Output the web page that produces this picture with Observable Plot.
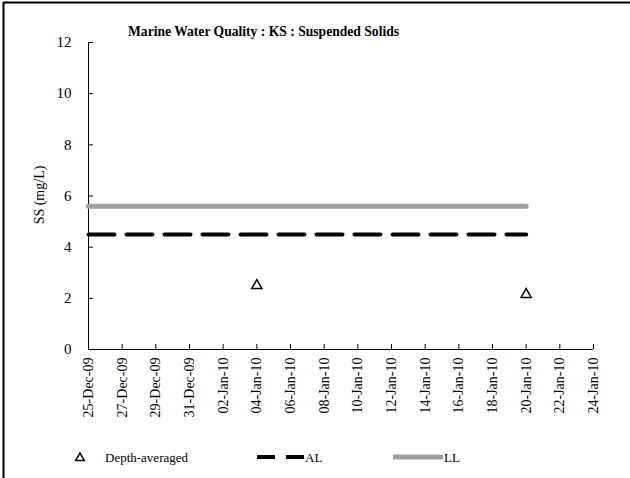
<!DOCTYPE html>
<html>
<head>
<meta charset="utf-8">
<script src="https://cdn.jsdelivr.net/npm/d3@7"></script>
<script src="https://cdn.jsdelivr.net/npm/@observablehq/plot@0.6"></script>
<style>
  html, body { margin: 0; padding: 0; background: #fff; }
  #chart { position: relative; width: 630px; height: 478px; }
  #chart svg, #chart svg text { font-family: "Liberation Serif", "Times New Roman", serif !important; }
</style>
</head>
<body>
<div id="chart"></div>
<script>
const title = "Marine Water Quality : KS : Suspended Solids";
const yLabel = "SS (mg/L)";
const sampleDates = ["2010-01-04", "2010-01-20"];
const sampleValues = [2.5, 2.15];
const limitDates = ["2009-12-25", "2010-01-20"];
const alValue = 4.5;
const llValue = 5.6;
const xDomain = ["2009-12-25", "2010-01-24"];
const yDomain = [0, 12];
const yTicks = [0, 2, 4, 6, 8, 10, 12];
const legendLabels = ["Depth-averaged", "AL", "LL"];

const parse = d3.utcParse("%Y-%m-%d");
const samples = sampleDates.map((d, i) => ({date: parse(d), value: sampleValues[i]}));
const al = limitDates.map(d => ({date: parse(d), value: alValue}));
const ll = limitDates.map(d => ({date: parse(d), value: llValue}));
const xStart = parse(xDomain[0]), xEnd = parse(xDomain[1]);
const xTicks = d3.utcDay.range(xStart, d3.utcDay.offset(xEnd, 1), 2);

const font = '"Liberation Serif", "Times New Roman", serif';

const plot = Plot.plot({
  width: 630,
  height: 478,
  marginLeft: 88,
  marginRight: 37,
  marginTop: 42,
  marginBottom: 129,
  style: {fontFamily: font, fontSize: "14px", color: "#000", background: "#fff"},
  x: {type: "utc", domain: [xStart, xEnd]},
  y: {domain: yDomain},
  marks: [
    Plot.axisY(yTicks, {tickSize: 0, tickPadding: 17, label: null, fontSize: 15}),
    Plot.axisX(xTicks, {tickSize: 0, tickPadding: 8, tickRotate: -90, tickFormat: d3.utcFormat("%d-%b-%y"), label: null, fontSize: 14}),
    Plot.ruleX(xTicks, {insetTop: 302, stroke: "#000", strokeWidth: 1}),
    Plot.ruleY(yTicks, {insetRight: 500, stroke: "#000", strokeWidth: 1}),
    Plot.ruleY([0], {stroke: "#000", strokeWidth: 1}),
    Plot.ruleX([xStart], {stroke: "#000", strokeWidth: 1}),
    Plot.line(ll, {x: "date", y: "value", stroke: "#9f9f9f", strokeWidth: 5}),
    Plot.line(al, {x: "date", y: "value", stroke: "#000", strokeWidth: 4, strokeDasharray: "26,12"}),
    Plot.dot(samples, {x: "date", y: "value", symbol: "triangle", r: 3.8, fill: "#fff", stroke: "#000", strokeWidth: 1.5})
  ]
});

document.getElementById("chart").appendChild(plot);

const svg = d3.select(plot);
// frame lines
svg.append("line").attr("x1", 3.5).attr("x2", 3.5).attr("y1", 2).attr("y2", 478).attr("stroke", "#000").attr("stroke-width", 2);
svg.append("line").attr("x1", 3).attr("x2", 630).attr("y1", 2.5).attr("y2", 2.5).attr("stroke", "#000").attr("stroke-width", 2);
// title
svg.append("text").attr("x", 128).attr("y", 36).attr("text-anchor", "start").attr("font-size", 13.6)
  .attr("font-weight", "bold").text(title);
// y label
svg.append("text").attr("transform", "translate(44,195) rotate(-90)").attr("text-anchor", "middle")
  .attr("font-size", 14).text(yLabel);
// legend
const lg = svg.append("g").attr("font-size", 13).attr("text-anchor", "start");
lg.append("path").attr("d", d3.symbol(d3.symbolTriangle, 32)()).attr("transform", "translate(80,458)")
  .attr("fill", "#fff").attr("stroke", "#000").attr("stroke-width", 1.5);
lg.append("text").attr("x", 105).attr("y", 462).text(legendLabels[0]);
lg.append("line").attr("x1", 257).attr("x2", 304).attr("y1", 457).attr("y2", 457)
  .attr("stroke", "#000").attr("stroke-width", 4).attr("stroke-dasharray", "18,11");
lg.append("text").attr("x", 305).attr("y", 462).text(legendLabels[1]);
lg.append("line").attr("x1", 393).attr("x2", 443).attr("y1", 457).attr("y2", 457)
  .attr("stroke", "#9f9f9f").attr("stroke-width", 5);
lg.append("text").attr("x", 444).attr("y", 462).text(legendLabels[2]);
</script>
</body>
</html>
